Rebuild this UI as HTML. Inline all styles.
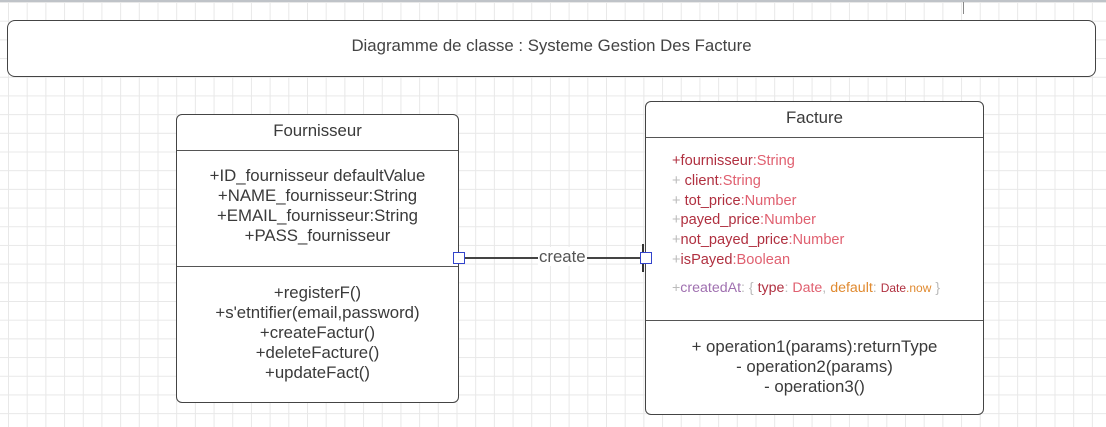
<!DOCTYPE html><html><head><style>
body{margin:0;width:1106px;height:427px;overflow:hidden;position:relative;font-family:"Liberation Sans",sans-serif;color:#3a3a3a;
background-color:#fff;background-image:linear-gradient(#e8e8e8 1px,transparent 1px),linear-gradient(90deg,#e8e8e8 1px,transparent 1px);background-size:18.7px 18.7px;background-position:8px 2px;}
.a{position:absolute}
.box{position:absolute;background:#fff;border:1px solid #444;border-radius:6px;box-sizing:border-box}
.c{text-align:center;font-size:16.8px;line-height:20px}
.hl{position:absolute;left:0;right:0;height:1px;background:#555}
.r{color:#b03040}.p{color:#e06070}
</style></head><body>
<div class="a" style="left:0;top:0;width:1106px;height:2px;background:#bfc3c8"></div>
<div class="a" style="left:963px;top:2px;width:1px;height:12px;background:#888"></div>
<div class="box" style="left:7px;top:20px;width:1089px;height:57px;border-radius:8px"></div>
<div class="a c" style="left:7px;top:36px;width:1089px;color:#444">Diagramme de classe : Systeme Gestion Des Facture</div>

<div class="box" style="left:176px;top:114px;width:283px;height:289px">
<div class="a c" style="left:0;right:0;top:6px;font-size:16.8px">Fournisseur</div>
<div class="hl" style="top:35px"></div>
<div class="a c" style="left:0;right:0;top:51px">+ID_fournisseur defaultValue<br>+NAME_fournisseur:String<br>+EMAIL_fournisseur:String<br>+PASS_fournisseur</div>
<div class="hl" style="top:151px"></div>
<div class="a c" style="left:0;right:0;top:168px">+registerF()<br>+s'etntifier(email,password)<br>+createFactur()<br>+deleteFacture()<br>+updateFact()</div>
</div>

<div class="box" style="left:645px;top:101px;width:339px;height:314px">
<div class="a c" style="left:0;right:0;top:6px;font-size:16.8px">Facture</div>
<div class="hl" style="top:35px"></div>
<div class="a" style="left:26px;top:50px;font-size:14.6px;line-height:19.8px">
<div class="r">+fournisseur<span class="p">:String</span></div>
<div class="r"><span style="color:#bbb">+</span> client<span class="p">:String</span></div>
<div class="r"><span style="color:#bbb">+</span> tot_price<span class="p">:Number</span></div>
<div class="r"><span style="color:#bbb">+</span>payed_price<span class="p">:Number</span></div>
<div class="r"><span style="color:#bbb">+</span>not_payed_price<span class="p">:Number</span></div>
<div class="r"><span style="color:#bbb">+</span>isPayed<span class="p">:Boolean</span></div>
<div style="margin-top:8px;font-size:14.2px"><span style="color:#bbb">+</span><span style="color:#a070b0">createdAt</span><span style="color:#bbb">: { </span><span class="r">type</span><span style="color:#bbb">: </span><span class="p">Date</span><span style="color:#bbb">, </span><span style="color:#e08a30">default</span><span style="color:#bbb">: </span> <span class="r" style="font-size:12px">Date</span><span style="color:#e08a30;font-size:12px">.now</span><span style="color:#bbb"> }</span></div>
</div>
<div class="hl" style="top:218px"></div>
<div class="a c" style="left:0;right:0;top:235px">+ operation1(params):returnType<br>- operation2(params)<br>- operation3()</div>
</div>

<div class="a" style="left:459px;top:257px;width:186px;height:2px;background:#444"></div>
<div class="a" style="left:642px;top:244px;width:2px;height:28px;background:#333"></div>
<div class="a" style="left:538px;top:247px;background:#fff;font-size:16.8px;line-height:19px;color:#555;padding:0 1px">create</div>
<div class="a" style="left:453px;top:252px;width:10px;height:10px;border:1px solid #3344cc;background:#fff"></div>
<div class="a" style="left:640px;top:252px;width:10px;height:10px;border:1px solid #3344cc;background:#fff"></div>
</body></html>
